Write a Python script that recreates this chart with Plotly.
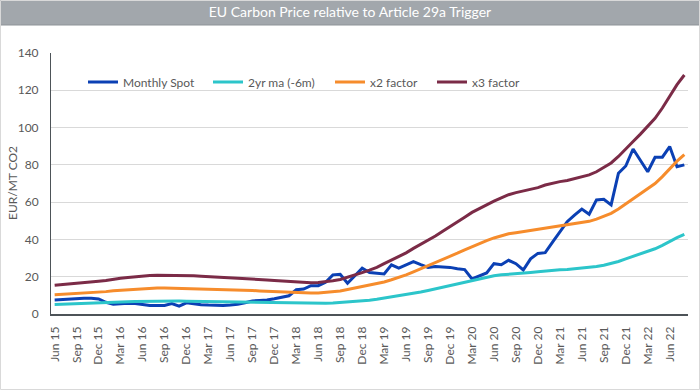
import pandas as pd
import plotly.graph_objects as go

# Categories: monthly, Jun 2015 .. Aug 2022
months = pd.date_range("2015-06-01", periods=87, freq="MS").strftime("%b %y").tolist()
tick_labels = months[::3]

monthly_spot = [
    7.5, 7.8, 8.0, 8.3, 8.5, 8.5, 8.1, 6.3, 5.2, 5.5,
    5.8, 5.6, 5.0, 4.5, 4.5, 4.6, 5.6, 4.2, 6.0, 5.3,
    5.0, 4.8, 4.6, 4.6, 4.8, 5.2, 6.0, 7.0, 7.3, 7.5,
    8.2, 9.0, 9.8, 13.0, 13.4, 15.2, 15.2, 17.0, 21.0, 21.3,
    16.5, 20.5, 24.6, 22.2, 21.8, 21.5, 26.4, 24.6, 26.3, 28.1,
    26.5, 25.0, 25.5, 25.4, 25.0, 24.3, 23.8, 18.8, 20.2, 22.0,
    27.0, 26.4, 28.8, 27.0, 23.6, 29.6, 32.5, 32.9, 38.5, 44.0,
    49.5, 53.0, 56.3, 53.5, 61.2, 61.5, 58.5, 75.5, 79.4, 88.5,
    82.3, 76.3, 84.1, 84.1, 89.8, 79.0, 80.0,
]

ma_2yr = [
    5.13, 5.23, 5.33, 5.47, 5.6, 5.73, 5.87, 6.0, 6.27, 6.4,
    6.53, 6.67, 6.77, 6.87, 6.93, 6.93, 6.9, 6.93, 6.9, 6.83,
    6.77, 6.7, 6.63, 6.57, 6.53, 6.47, 6.4, 6.3, 6.2, 6.1,
    6.0, 5.9, 5.8, 5.7, 5.63, 5.6, 5.63, 5.73, 5.93, 6.17,
    6.53, 6.9, 7.1, 7.4, 7.9, 8.5, 9.1, 9.7, 10.3, 11.0,
    11.8, 12.6, 13.5, 14.4, 15.3, 16.3, 17.3, 18.2, 19.0, 20.0,
    20.5, 21.0, 21.4, 21.8, 22.1, 22.3, 22.6, 23.07, 23.4, 23.67,
    23.87, 24.2, 24.53, 24.87, 25.43, 26.17, 27.0, 28.17, 29.57, 30.83,
    32.17, 33.53, 35.0, 36.83, 39.0, 41.0, 42.73,
]

x2_factor = [
    10.3, 10.5, 10.7, 10.9, 11.2, 11.5, 11.7, 12.0, 12.5, 12.8,
    13.1, 13.3, 13.5, 13.7, 13.9, 13.9, 13.8, 13.9, 13.8, 13.7,
    13.5, 13.4, 13.3, 13.1, 13.1, 12.9, 12.8, 12.6, 12.4, 12.2,
    12.0, 11.8, 11.6, 11.4, 11.3, 11.2, 11.3, 11.5, 11.9, 12.3,
    13.1, 13.9, 14.6, 15.2, 16.0, 17.2, 18.4, 19.6, 21.0, 22.6,
    24.2, 25.8, 27.4, 29.1, 30.8, 32.6, 34.4, 36.2, 37.8, 39.4,
    40.8, 42.0, 43.0, 43.6, 44.2, 44.6, 45.2, 46.1, 46.8, 47.3,
    47.7, 48.4, 49.1, 49.7, 50.9, 52.3, 54.0, 56.3, 59.1, 61.7,
    64.3, 67.1, 70.0, 73.7, 78.0, 82.0, 85.5,
]

x3_factor = [
    15.4, 15.7, 16.0, 16.4, 16.8, 17.2, 17.6, 18.0, 18.8, 19.2,
    19.6, 20.0, 20.3, 20.6, 20.8, 20.8, 20.7, 20.8, 20.7, 20.5,
    20.3, 20.1, 19.9, 19.7, 19.6, 19.4, 19.2, 18.9, 18.6, 18.3,
    18.0, 17.7, 17.4, 17.1, 16.9, 16.8, 16.9, 17.2, 17.8, 18.5,
    19.6, 20.8, 22.2, 23.5, 25.0, 27.0, 28.8, 30.6, 32.8, 35.2,
    37.3, 39.4, 41.8, 44.4, 46.8, 49.4, 51.9, 54.5, 56.6, 58.3,
    60.5, 62.3, 64.0, 65.1, 66.0, 66.9, 67.8, 69.2, 70.2, 71.0,
    71.6, 72.6, 73.6, 74.6, 76.3, 78.5, 81.0, 84.5, 88.7, 92.5,
    96.5, 100.6, 105.0, 110.5, 117.0, 123.0, 128.2,
]

series_names = ["Monthly Spot", "2yr ma (-6m)", "x2 factor", "x3 factor"]
series_values = [monthly_spot, ma_2yr, x2_factor, x3_factor]
series_colors = ["#0B40B4", "#2CC5CA", "#F68C2C", "#7B2B47"]
legend_ids = ["legend", "legend2", "legend3", "legend4"]
legend_x_px = [83, 208, 330, 432]

W, H = 700, 390
ML, MR, MT, MB = 51, 12, 53, 76
PW, PH = W - ML - MR, H - MT - MB
FONT = "Lato, Roboto, sans-serif"
GREY = "#595959"


def px_x(xp):
    return (xp - ML) / PW


def px_y(yp):
    return (H - MB - yp) / PH


fig = go.Figure()
for name, vals, col, lg in zip(series_names, series_values, series_colors, legend_ids):
    fig.add_trace(go.Scatter(x=months, y=vals, name=name, mode="lines",
                             line=dict(color=col, width=3), legend=lg))

legend_common = dict(orientation="h", xref="paper", yref="paper",
                     y=px_y(82), yanchor="middle", xanchor="left",
                     bgcolor="rgba(0,0,0,0)", itemwidth=30,
                     font=dict(family=FONT, size=12, color=GREY))
legends = {}
for lg, xp in zip(legend_ids, legend_x_px):
    legends[lg] = dict(x=px_x(xp), **legend_common)

fig.update_layout(
    template="none",
    width=W, height=H,
    margin=dict(l=ML, r=MR, t=MT, b=MB, autoexpand=False),
    paper_bgcolor="white", plot_bgcolor="white",
    font=dict(family=FONT, size=12, color=GREY),
    title=dict(text="EU Carbon Price relative to Article 29a Trigger",
               x=0.5, xanchor="center", xref="container",
               y=1 - 12.5 / H, yanchor="middle", yref="container",
               font=dict(family=FONT, size=14, color="white")),
    showlegend=True,
    **legends,
    xaxis=dict(type="category", range=[-0.5, len(months) - 0.5],
               tickmode="array", tickvals=tick_labels, ticktext=tick_labels,
               tickangle=-90, showgrid=False, showline=True, automargin=False,
               linecolor="#4D5358", linewidth=1.5, ticks="",
               ticklabelstandoff=6, zeroline=False,
               tickfont=dict(family=FONT, size=12, color=GREY)),
    yaxis=dict(range=[0, 140], dtick=20, showgrid=True, gridcolor="#D9D9D9",
               gridwidth=1, showline=True, linecolor="#4D5358", linewidth=1,
               ticks="", zeroline=False, ticklabelstandoff=9, automargin=False,
               tickfont=dict(family=FONT, size=12, color=GREY)),
    shapes=[
        dict(type="rect", xref="paper", yref="paper",
             x0=px_x(0), x1=px_x(W), y0=px_y(25), y1=px_y(0),
             fillcolor="#A2A7AC", line=dict(color="#8E9398", width=1), layer="below"),
        dict(type="rect", xref="paper", yref="paper",
             x0=px_x(0.5), x1=px_x(W - 0.5), y0=px_y(H - 0.5), y1=px_y(0.5),
             fillcolor="rgba(0,0,0,0)", line=dict(color="#D9D9D9", width=1)),
    ],
    annotations=[
        dict(text="EUR/MT CO2", textangle=-90, xref="paper", yref="paper",
             x=px_x(12), y=px_y(183), xanchor="center", yanchor="middle",
             showarrow=False, font=dict(family=FONT, size=12, color=GREY)),
    ],
)

fig.write_html("out.html",
               config={"displayModeBar": False},
               post_script="document.body.style.margin='0';"
                           "document.body.style.overflow='hidden';")
